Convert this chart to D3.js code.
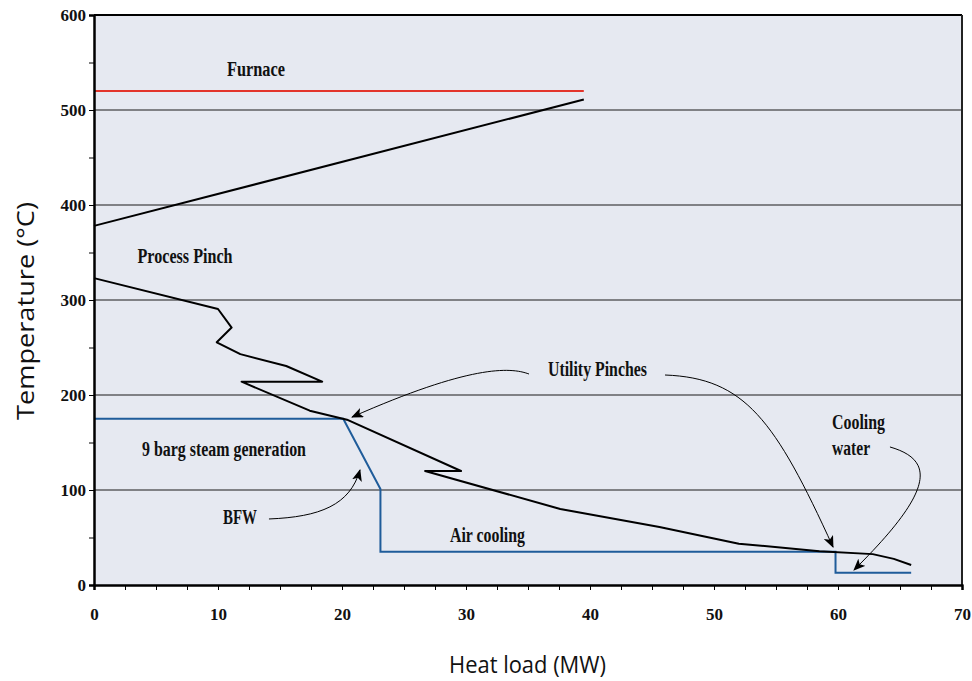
<!DOCTYPE html>
<html>
<head>
<meta charset="utf-8">
<script src="https://cdn.jsdelivr.net/npm/d3@7"></script>
<style>
  body { margin: 0; background: #fff; }
  svg { display: block; }
  .tick text { font-family: "Liberation Serif", "Times New Roman", serif; font-weight: bold; font-size: 17px; fill: #111; }
  .lbl { font-family: "Liberation Serif", "Times New Roman", serif; font-weight: bold; font-size: 20px; fill: #111; }
  .title { font-family: "Open Sans", "Noto Sans", sans-serif; font-size: 24px; fill: #111; }
</style>
</head>
<body>
<svg id="chart"></svg>
<script>
const width = 972;
const height = 681;
const margin = {top: 15, left: 94, bottom: 96, right: 10};
const w = width - margin.left - margin.right;
const h = height - margin.top - margin.bottom;

// tick labels
const xTicks = [0, 10, 20, 30, 40, 50, 60, 70];
const yTicks = [0, 100, 200, 300, 400, 500, 600];
const gridTemps = [100, 200, 300, 400, 500];

// furnace line
const furnaceLoad = [0, 39.5];
const furnaceTemp = [520, 520];

// hot composite, upper branch
const upperLoad = [0, 39.5];
const upperTemp = [378, 511];

// process grand composite (below pinch)
const processLoad = [0, 10.0, 11.1, 9.9, 11.8, 15.5, 18.4, 11.9, 17.4, 20.4, 29.6, 26.7, 37.6, 45.6, 52.0, 58.5, 62.8, 64.5, 65.9];
const processTemp = [323, 290.5, 271, 255.5, 243, 230.5, 214, 214, 183.5, 174, 120, 120, 80, 61, 43.5, 35.5, 32.5, 27.5, 21];

// utilities: steam generation, BFW, air cooling, cooling water
const utilityLoad = [0, 20.1, 23.1, 23.1, 59.8, 59.8, 65.9];
const utilityTemp = [175, 175, 101, 35, 35, 13, 13];

// annotation labels [text, load, temp, anchor, length px]
const labels = [
    ["Furnace", 13.06, 535.8, "middle", 58],
    ["Process Pinch", 7.34, 339.3, "middle", 95],
    ["Utility Pinches", 40.6, 220, "middle", 99],
    ["9 barg steam generation", 10.48, 135.8, "middle", 164],
    ["BFW", 11.77, 64.2, "middle", 34],
    ["Air cooling", 31.73, 45.6, "middle", 75],
    ["Cooling", 59.52, 163.9, "start", 53],
    ["water", 59.52, 136.8, "start", 38]
];

// annotation arrows, cubic curves in data units
const arrows = [
    [[35.08, 222.1], [33.55, 229.5], [30.32, 231.6], [20.81, 176.8]],
    [[46.05, 221.05], [52.5, 217.9], [54.92, 173.7], [59.6, 40]],
    [[64.19, 145.3], [67.82, 131.6], [67.82, 100], [61.29, 15.8]],
    [[14.11, 69.5], [18.23, 71.6], [20.65, 84.2], [21.45, 121.1]]
];

let svg = d3.select("#chart")
    .attr("width", width)
    .attr("height", height);

let defs = svg.append("defs");
defs.append("marker")
    .attr("id", "arrow")
    .attr("viewBox", "0 0 12 10")
    .attr("refX", 11)
    .attr("refY", 5)
    .attr("markerWidth", 12)
    .attr("markerHeight", 10)
    .attr("markerUnits", "userSpaceOnUse")
    .attr("orient", "auto")
  .append("path")
    .attr("d", "M0,0 L12,5 L0,10 L3,5 Z")
    .attr("fill", "#000");

let g = svg.append("g")
    .attr("transform", `translate(${margin.left}, ${margin.top})`);

let x = d3.scaleLinear().domain([0, 70]).range([0, w]);
let y = d3.scaleLinear().domain([0, 600]).range([h, 0]);

// plot background
g.append("rect")
    .attr("width", w)
    .attr("height", h)
    .attr("fill", "#e6e9f1");

// horizontal grid
g.selectAll(".grid")
    .data(gridTemps)
  .enter().append("line")
    .attr("class", "grid")
    .attr("x1", 0)
    .attr("x2", w)
    .attr("y1", d => y(d))
    .attr("y2", d => y(d))
    .attr("stroke", "#1a1a1a")
    .attr("stroke-width", 1.2);

// top and right frame
g.append("line").attr("x1", 0).attr("x2", w).attr("y1", 0).attr("y2", 0)
    .attr("stroke", "#000").attr("stroke-width", 2);
g.append("line").attr("x1", w).attr("x2", w).attr("y1", 0).attr("y2", h)
    .attr("stroke", "#222").attr("stroke-width", 2);

let line = d3.line()
    .x(d => x(d[0]))
    .y(d => y(d[1]));

g.append("path")
    .datum(d3.zip(furnaceLoad, furnaceTemp))
    .attr("d", line)
    .attr("fill", "none")
    .attr("stroke", "#e3342b")
    .attr("stroke-width", 2);

g.append("path")
    .datum(d3.zip(upperLoad, upperTemp))
    .attr("d", line)
    .attr("fill", "none")
    .attr("stroke", "#000")
    .attr("stroke-width", 2);

g.append("path")
    .datum(d3.zip(utilityLoad, utilityTemp))
    .attr("d", line)
    .attr("fill", "none")
    .attr("stroke", "#1f5c9a")
    .attr("stroke-width", 2);

g.append("path")
    .datum(d3.zip(processLoad, processTemp))
    .attr("d", line)
    .attr("fill", "none")
    .attr("stroke", "#000")
    .attr("stroke-width", 2)
    .attr("stroke-linejoin", "round");

// arrows
g.selectAll(".arrow")
    .data(arrows)
  .enter().append("path")
    .attr("class", "arrow")
    .attr("d", p => {
        let pt = p.map(d => [x(d[0]), y(d[1])]);
        return `M${pt[0]} C${pt[1]} ${pt[2]} ${pt[3]}`;
    })
    .attr("fill", "none")
    .attr("stroke", "#000")
    .attr("stroke-width", 1)
    .attr("marker-end", "url(#arrow)");

// labels
g.selectAll(".lbl")
    .data(labels)
  .enter().append("text")
    .attr("class", "lbl")
    .attr("x", d => x(d[1]))
    .attr("y", d => y(d[2]))
    .attr("text-anchor", d => d[3])
    .attr("textLength", d => d[4])
    .attr("lengthAdjust", "spacingAndGlyphs")
    .text(d => d[0]);

// axes
let xAxis = g.append("g")
    .attr("transform", `translate(0, ${h})`)
    .call(d3.axisBottom(x).tickValues(d3.range(0, 70.01, 2.5)).tickSize(5).tickFormat(""));
let xLabels = g.append("g")
    .attr("transform", `translate(0, ${h})`)
    .call(d3.axisBottom(x).tickValues(xTicks).tickSize(5).tickFormat(d3.format("d")));
xLabels.selectAll("text").attr("y", 35).attr("dy", 0);

let yAxis = g.append("g")
    .call(d3.axisLeft(y).tickValues(d3.range(0, 600.01, 50)).tickSize(5).tickFormat(""));
let yLabels = g.append("g")
    .call(d3.axisLeft(y).tickValues(yTicks).tickSize(5).tickPadding(3).tickFormat(d3.format("d")));

[xAxis, xLabels, yAxis, yLabels].forEach(a => {
    a.select(".domain").attr("stroke", "#000").attr("stroke-width", 2);
    a.selectAll(".tick line").attr("stroke", "#000").attr("stroke-width", 1);
});

// axis titles
svg.append("text")
    .attr("class", "title")
    .attr("transform", `translate(34, ${311}) rotate(-90)`)
    .attr("text-anchor", "middle")
    .attr("textLength", 218)
    .attr("lengthAdjust", "spacingAndGlyphs")
    .text("Temperature (°C)");

svg.append("text")
    .attr("class", "title")
    .attr("x", 527.5)
    .attr("y", 673)
    .attr("text-anchor", "middle")
    .attr("textLength", 157)
    .attr("lengthAdjust", "spacingAndGlyphs")
    .text("Heat load (MW)");
</script>
</body>
</html>
